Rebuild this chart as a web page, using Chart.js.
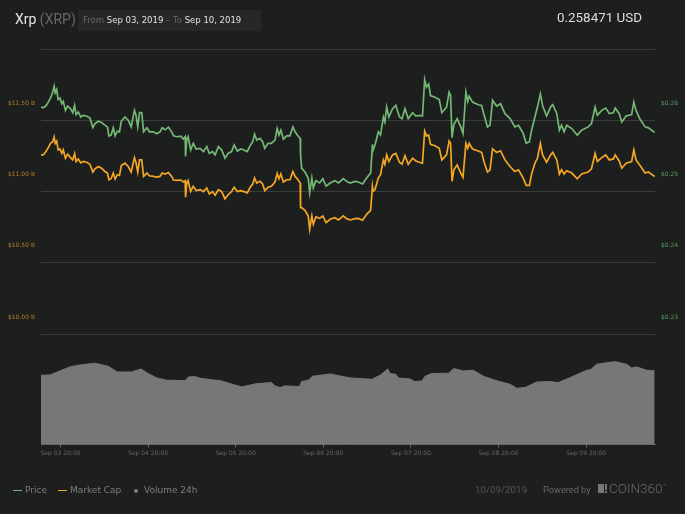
<!DOCTYPE html>
<html>
<head>
<meta charset="utf-8">
<title>Xrp (XRP)</title>
<script src="https://cdn.jsdelivr.net/npm/chart.js@4/dist/chart.umd.min.js"></script>
<style>
  html, body { margin: 0; padding: 0; background: #1d1f1f; overflow: hidden; }
  #wrap { position: relative; width: 685px; height: 514px; font-family: "DejaVu Sans", sans-serif; }
  #wrap canvas { position: absolute; left: 0; top: 0; }
  .txt { position: absolute; white-space: nowrap; line-height: 1; }
  .rob { font-family: Roboto, sans-serif; }
  .leg { font-size: 9px; color: #7d7f7f; top: 486px; }
  .swatch { position: absolute; top: 490px; width: 9px; height: 1px; }
</style>
</head>
<body>
<div id="wrap">
  <canvas id="chart" width="685" height="514"></canvas>

  <div class="txt rob" style="left:15px;top:12px;font-size:14px;color:#e6e6e6">Xrp <span style="color:#666">(XRP)</span></div>
  <div style="position:absolute;left:78px;top:10px;width:183px;height:21px;background:#262828"></div>
  <div class="txt" style="left:83px;top:16px;font-size:8.5px;color:#e0e0e0"><span style="color:#666">From</span> Sep 03, 2019 <span style="color:#666">– To</span> Sep 10, 2019</div>
  <div class="txt rob" style="left:557px;top:11px;font-size:13.4px;color:#dcdcdc">0.258471 USD</div>

  <div class="swatch" style="left:13px;background:#74b874"></div>
  <div class="txt leg" style="left:25px">Price</div>
  <div class="swatch" style="left:58px;background:#f5a623"></div>
  <div class="txt leg" style="left:70px">Market Cap</div>
  <div style="position:absolute;left:134px;top:489px;width:4px;height:4px;border-radius:50%;background:#7d7f7f"></div>
  <div class="txt leg" style="left:144px">Volume 24h</div>

  <div class="txt rob" style="left:475px;top:485px;font-size:9.8px;color:#555">10/09/2019</div>
  <div class="txt rob" style="left:543px;top:485px;font-size:9.2px;color:#666">Powered by</div>
  <div style="position:absolute;left:598px;top:484px;width:6px;height:9px;background:#777"></div>
  <div style="position:absolute;left:605px;top:484px;width:2px;height:6px;background:#777"></div>
  <div style="position:absolute;left:605px;top:491px;width:2px;height:2px;background:#777"></div>
  <div class="txt rob" style="left:609px;top:482px;font-size:13.5px;font-weight:300;color:#6a6a6a">COIN360<sup style="font-size:6px;vertical-align:5px;line-height:0">™</sup></div>
</div>

<script>
// hours after the left edge of the chart (Sep 03 ~14:40)
const hours = [
  0, 0.6, 1.3, 2, 2.6, 3.2, 3.6, 3.9, 4.3, 4.7,
  5.2, 5.7, 6.1, 6.7, 7.3, 8.1, 8.7, 9.2, 9.6, 10.2,
  10.9, 11.6, 12.5, 13.4, 14.2, 14.8, 15.7, 16.6, 17.5, 18.2,
  18.6, 19.2, 19.8, 20.3, 20.9, 21.5, 22, 23, 23.9, 24.7,
  25.6, 26, 26.5, 27, 27.6, 28.1, 29, 29.7, 30.8, 31.7,
  32.6, 33.2, 34, 34.9, 35.8, 36.3, 37.2, 38.3, 39, 39.5,
  39.6, 39.9, 40.3, 41, 41.7, 42.5, 43.6, 44.5, 45.4, 46.1,
  47, 47.7, 48.6, 49.5, 50.4, 51.3, 52.2, 52.9, 53.8, 54.7,
  55.6, 56.5, 57.3, 58, 58.5, 59.1, 60, 60.7, 61.3, 62.2,
  63.1, 64.1, 64.7, 65.2, 65.7, 66.4, 67.3, 68.2, 69, 69.6,
  70.2, 71, 71.1, 71.4, 72.3, 73.2, 73.6, 74.2, 74.6, 75.3,
  76.3, 77.2, 78.1, 79.2, 80.5, 81.5, 82.8, 83.7, 84.7,
  86, 86.9, 88.1, 89.2, 90.3, 90.8, 91, 91.5, 92.4, 93,
  93.8, 94.2, 94.7, 95.3, 96.3, 97.2, 98.2, 98.9, 99.7, 100.6,
  101.8, 102.7, 103.6, 104.5, 105.1, 105.6, 106.2, 106.7, 107.9, 109.1,
  109.8, 111.1, 111.8, 112.2, 112.6, 113.1, 114, 115, 115.6, 116.4,
  116.9, 117.3, 118.2, 119.8, 120.7, 121.4, 122.3, 123, 123.7, 124.8,
  125.9, 127.1, 128.5, 129.8, 130.8, 132.1, 132.9, 133.8, 134.4, 135.3,
  136, 136.8, 137.4, 138.5, 139.6, 140.2, 141.3, 142, 142.6, 143.3,
  144, 145.4, 146.9, 148.1, 149.9, 150.8, 151.8, 152.4, 153.6, 154.7,
  155.7, 156.8, 157.3, 158.4, 159.1, 160.3, 161.8, 162.4, 163, 164.1,
  165.5, 166.4, 168.1
];

const priceValues = [
  .26185, .26176, .26199, .26255, .2631, .26394, .26477, .26384, .26431, .26292,
  .2631, .26231, .26264, .26139, .26199, .26162, .26106, .26208, .26079, .26116,
  .26046, .26069, .2606, .26032, .25898, .25954, .25986, .25968, .25931, .25907,
  .25778, .25792, .25894, .25782, .25847, .25838, .25986, .26046, .26, .25907,
  .26139, .26079, .25907, .26106, .26106, .25838, .25894, .25838, .25838, .2581,
  .25838, .25894, .25866, .25903, .25838, .25782, .25769, .25778, .25736, .25769,
  .25491, .25722, .25769, .25583, .25676, .25597, .25606, .2556, .2563, .25537,
  .2556, .25514, .2563, .25583, .25468, .25537, .2556, .25653, .25569, .25597,
  .25583, .2556, .25644, .25699, .25806, .25722, .25745, .25699, .25606, .25676,
  .25676, .25722, .25884, .25792, .25861, .25736, .25782, .25782, .25907, .25838,
  .25792, .25745, .25514, .25329, .25273, .2519, .24981, .2519, .25051, .25153,
  .2512, .2518, .25074, .2512, .25153, .2512, .2518, .25143, .2512,
  .25143, .25134, .25106, .2519, .25259, .25662, .25583, .25653, .25838, .25792,
  .26046, .25977, .26185, .26046, .26162, .26208, .26046, .26023, .26162, .26023,
  .26106, .2606, .26069, .2606, .26569, .26463, .26509, .26347, .26324, .26292,
  .26106, .26185, .26394, .26347, .25755, .2594, .26023, .25907, .25815, .26394,
  .26264, .26338, .26255, .26218, .26208, .26069, .25907, .2593, .26278, .26199,
  .26231, .26093, .26023, .25907, .2593, .25815, .25676, .25699, .25861, .26046,
  .26185, .2637, .26208, .2606, .26185, .26218, .26093, .25861, .2593, .25838,
  .2593, .25884, .25792, .25861, .25907, .25954, .26185, .26069, .26139, .26171,
  .26093, .26106, .26171, .26093, .25977, .2606, .26079, .26255, .26139, .26014,
  .25907, .25894, .25829
];

const capValues = [
  11.257, 11.257, 11.28, 11.308, 11.338, 11.35, 11.382, 11.338, 11.354, 11.292,
  11.299, 11.268, 11.292, 11.234, 11.262, 11.238, 11.222, 11.266, 11.211, 11.229,
  11.201, 11.211, 11.206, 11.192, 11.137, 11.16, 11.176, 11.164, 11.141, 11.13,
  11.083, 11.09, 11.13, 11.088, 11.118, 11.113, 11.183, 11.199, 11.176, 11.137,
  11.238, 11.206, 11.137, 11.222, 11.222, 11.106, 11.13, 11.111, 11.106, 11.102,
  11.106, 11.13, 11.123, 11.134, 11.106, 11.081, 11.079, 11.081, 11.067, 11.076,
  10.961, 11.053, 11.076, 11.002, 11.037, 11.007, 11.014, 11, 11.025, 10.984,
  11, 10.974, 11.014, 11, 10.949, 10.979, 11, 11.03, 11, 11.007,
  11, 10.991, 11.03, 11.053, 11.095, 11.06, 11.072, 11.053, 11.007, 11.03,
  11.037, 11.067, 11.127, 11.09, 11.123, 11.067, 11.083, 11.083, 11.141, 11.106,
  11.09, 11.06, 10.887, 10.887, 10.868, 10.829, 10.736, 10.829, 10.771, 10.822,
  10.812, 10.829, 10.782, 10.806, 10.817, 10.801, 10.829, 10.81, 10.801,
  10.81, 10.812, 10.799, 10.84, 10.868, 11.037, 11.002, 11.014, 11.095, 11.118,
  11.222, 11.192, 11.257, 11.211, 11.257, 11.268, 11.206, 11.192, 11.252, 11.192,
  11.234, 11.215, 11.206, 11.199, 11.424, 11.391, 11.396, 11.331, 11.322, 11.303,
  11.222, 11.257, 11.354, 11.338, 11.072, 11.153, 11.187, 11.13, 11.1, 11.338,
  11.303, 11.338, 11.299, 11.285, 11.275, 11.206, 11.137, 11.153, 11.299, 11.275,
  11.285, 11.222, 11.176, 11.141, 11.153, 11.095, 11.044, 11.044, 11.123, 11.199,
  11.234, 11.338, 11.257, 11.206, 11.257, 11.275, 11.222, 11.123, 11.153, 11.123,
  11.146, 11.13, 11.09, 11.123, 11.137, 11.16, 11.268, 11.211, 11.238, 11.257,
  11.222, 11.229, 11.257, 11.215, 11.164, 11.199, 11.211, 11.292, 11.222, 11.183,
  11.13, 11.137, 11.106
];

// volume 24h in million USD, no scale printed in the picture so this is a rough read
const volumeHours = [
  0, 2.5, 5.2, 7.9, 10.7, 14.8, 18.4, 20.9, 24.8, 27.4,
  29.4, 31.7, 34.4, 39.5, 40.4, 42.2, 43.6, 49.5, 52.7, 55,
  59.1, 63.2, 64.1, 65.5, 66.8, 70.8, 71.4, 73.2, 74.4, 79.2,
  84.7, 90.6, 92.9, 95, 95.6, 97.2, 97.9, 101.1, 102.4, 104.3,
  105.2, 107, 111.6, 113.1, 115.7, 118.4, 121.2, 125.3, 128.5, 130.3,
  132.6, 135.8, 139.4, 141.7, 145.8, 149.5, 150.6, 152.2, 157.2, 160.4,
  161.8, 163.2, 165.9, 168.1
];
const volumeValues = [
  963, 968, 1023, 1079, 1107, 1130, 1088, 1009, 1009, 1051,
  986, 926, 894, 889, 940, 945, 921, 884, 833, 801,
  847, 861, 815, 792, 815, 806, 875, 894, 949, 982,
  926, 907, 963, 1051, 986, 977, 926, 912, 875, 884,
  949, 986, 991, 1056, 1023, 1033, 949, 880, 838, 782,
  792, 870, 875, 861, 949, 1033, 1042, 1116, 1153, 1116,
  1065, 1079, 1033, 1023
];

const xTickHours = [5.34, 29.34, 53.34, 77.34, 101.34, 125.34, 149.34];
const xTickLabels = ['Sep 03 20:00', 'Sep 04 20:00', 'Sep 05 20:00', 'Sep 06 20:00', 'Sep 07 20:00', 'Sep 08 20:00', 'Sep 09 20:00'];
const capTicks = [10, 10.5, 11, 11.5, 12];
const priceTicks = [0.23, 0.24, 0.25, 0.26, 0.27];

const toPoints = (xs, ys) => xs.map((x, i) => ({ x: x, y: ys[i] }));
const setTicks = list => scale => { scale.ticks = list.map(v => ({ value: v })); };
const tickFont = { family: 'DejaVu Sans', size: 6 };

new Chart(document.getElementById('chart').getContext('2d'), {
  type: 'line',
  data: {
    datasets: [
      {
        label: 'Price',
        data: toPoints(hours, priceValues),
        yAxisID: 'price',
        borderColor: '#74b874',
        borderWidth: 1.7,
        pointRadius: 0,
        order: 1
      },
      {
        label: 'Market Cap',
        data: toPoints(hours, capValues),
        yAxisID: 'cap',
        borderColor: '#f5a623',
        borderWidth: 1.7,
        pointRadius: 0,
        order: 2
      },
      {
        label: 'Volume 24h',
        data: toPoints(volumeHours, volumeValues),
        yAxisID: 'volume',
        borderColor: '#777777',
        backgroundColor: '#777777',
        borderWidth: 1,
        fill: 'origin',
        pointRadius: 0,
        order: 3
      }
    ]
  },
  options: {
    responsive: false,
    animation: false,
    devicePixelRatio: 1,
    layout: { padding: { top: 49 } },
    plugins: { legend: { display: false }, tooltip: { enabled: false } },
    scales: {
      x: {
        type: 'linear',
        min: 0,
        max: 168.2,
        afterFit: s => { s.height = 69.5; },
        afterBuildTicks: setTicks(xTickHours),
        grid: { drawOnChartArea: false, color: '#666', tickLength: 3 },
        border: { color: '#666' },
        ticks: {
          color: '#666',
          font: tickFont,
          padding: 2,
          maxRotation: 0,
          autoSkip: false,
          callback: v => xTickLabels[xTickHours.indexOf(v)]
        }
      },
      cap: {
        position: 'left',
        min: 9.226,
        max: 12,
        afterFit: s => { s.width = 41; },
        afterBuildTicks: setTicks(capTicks),
        grid: { color: '#3a3c3c', drawTicks: false },
        border: { display: false },
        ticks: {
          color: '#b87f1f',
          font: tickFont,
          padding: 6,
          labelOffset: -17,
          callback: v => (v === 12 ? '' : '$' + v.toFixed(2) + ' B')
        }
      },
      price: {
        position: 'right',
        min: 0.2145,
        max: 0.27,
        afterFit: s => { s.width = 30; },
        afterBuildTicks: setTicks(priceTicks),
        grid: { drawOnChartArea: false, drawTicks: false },
        border: { display: false },
        ticks: {
          color: '#5f9a62',
          font: tickFont,
          padding: 6,
          labelOffset: -17,
          callback: v => (v === 0.27 ? '' : '$' + v.toFixed(2))
        }
      },
      volume: {
        display: false,
        min: 0,
        max: 5500
      }
    }
  }
});
</script>
</body>
</html>
